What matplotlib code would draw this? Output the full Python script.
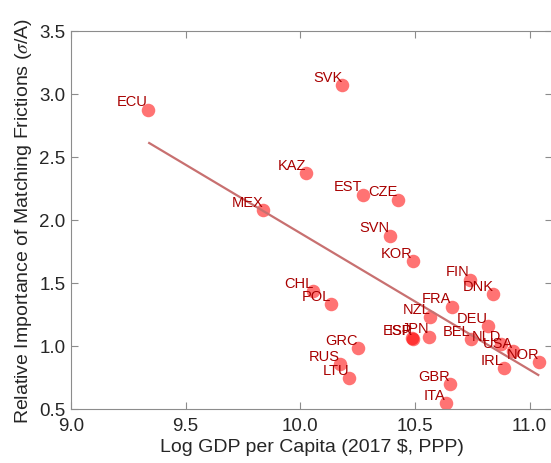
import matplotlib
matplotlib.use("Agg")
import matplotlib.pyplot as plt

plt.rcParams['font.family'] = ['Liberation Sans', 'DejaVu Sans']
plt.rcParams['mathtext.fontset'] = 'stix'

countries = ['ECU', 'SVK', 'KAZ', 'MEX', 'EST', 'CZE', 'SVN', 'KOR', 'CHL', 'POL',
             'FIN', 'DNK', 'FRA', 'NZL', 'DEU', 'ESP', 'ISR', 'JPN', 'BEL', 'NLD',
             'USA', 'NOR', 'IRL', 'GRC', 'RUS', 'LTU', 'GBR', 'ITA']
log_gdp = [9.335, 10.184, 10.027, 9.838, 10.272, 10.424, 10.391, 10.490, 10.056, 10.133,
           10.740, 10.842, 10.660, 10.566, 10.817, 10.486, 10.490, 10.562, 10.744, 10.875,
           10.928, 11.041, 10.888, 10.250, 10.173, 10.214, 10.653, 10.634]
frictions = [2.875, 3.071, 2.371, 2.079, 2.201, 2.161, 1.875, 1.672, 1.437, 1.333,
             1.526, 1.413, 1.312, 1.228, 1.156, 1.061, 1.058, 1.074, 1.056, 1.016,
             0.960, 0.870, 0.823, 0.982, 0.857, 0.744, 0.698, 0.545]

# fitted line end points
fit_x = [9.341, 11.038]
fit_y = [2.611, 0.770]

fig = plt.figure(figsize=(5.51, 4.64), dpi=100)
ax = fig.add_axes([71 / 551, 54 / 464, 481.5 / 551, 378 / 464])

ax.scatter(log_gdp, frictions, s=95, color='red', alpha=0.55, linewidths=0, zorder=2)
ax.plot(fit_x, fit_y, color='#c87070', lw=1.6, zorder=3)

for name, x, y in zip(countries, log_gdp, frictions):
    ax.text(x, y + 0.01, name, ha='right', va='bottom', fontsize=10.5,
            color='#a80000', zorder=4)

ax.set_xlim(9.0, 11.1)
ax.set_ylim(0.5, 3.5)
ax.set_xticks([9.0, 9.5, 10.0, 10.5, 11.0])
ax.set_xticklabels(['9.0', '9.5', '10.0', '10.5', '11.0'])
ax.set_yticks([0.5, 1.0, 1.5, 2.0, 2.5, 3.0, 3.5])
ax.set_yticklabels(['0.5', '1.0', '1.5', '2.0', '2.5', '3.0', '3.5'])

for s in ax.spines.values():
    s.set_color('#8c8c8c')
    s.set_linewidth(0.8)
ax.tick_params(direction='in', length=5, width=0.8, color='#8c8c8c',
               labelcolor='#262626', labelsize=13.5, top=True, right=True)
ax.tick_params(axis='x', pad=6)
ax.tick_params(axis='y', pad=4)

ax.set_xlabel('Log GDP per Capita (2017 $, PPP)', fontsize=14, color='#262626', labelpad=3)
ax.set_ylabel(r'Relative Importance of Matching Frictions ($\sigma$/A)', fontsize=14,
              color='#262626', labelpad=4)

fig.savefig('out.png', dpi=100)
